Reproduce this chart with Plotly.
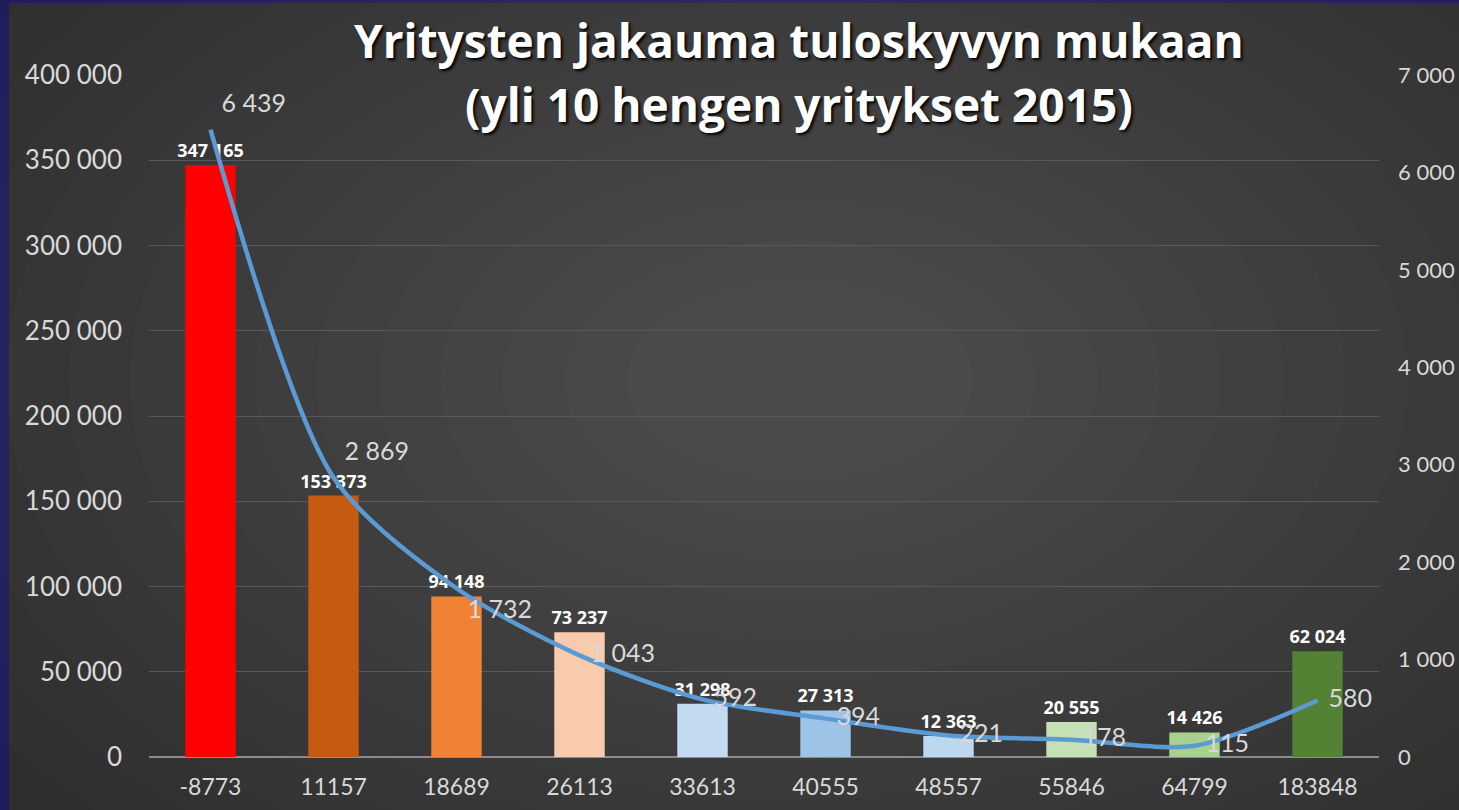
import plotly.graph_objects as go

# tuloskyky category (x axis labels)
categories = ["-8773", "11157", "18689", "26113", "33613", "40555",
              "48557", "55846", "64799", "183848"]
# bars, left axis
bar_values = [347165, 153373, 94148, 73237, 31298, 27313, 12363, 20555, 14426, 62024]
# line, right axis
line_values = [6439, 2869, 1732, 1043, 592, 394, 221, 178, 115, 580]

title_lines = ["Yritysten jakauma tuloskyvyn mukaan", "(yli 10 hengen yritykset 2015)"]

bar_colors = ["#FF0000", "#C55A11", "#F08235", "#F8CBAD", "#C3DAF0",
              "#9DC3E6", "#BDD7EE", "#C5E0B4", "#A9D18E", "#548235"]
line_text_pos = ["top right", "top right", "bottom right", "middle right", "middle right",
                 "middle right", "middle right", "middle right", "middle right", "middle right"]

W, H = 1459, 810
L, R, T, B = 149, 80, 75, 53
PW, PH = W - L - R, H - T - B


def px_x(px):
    return (px - L) / PW


def px_y(py):
    return (H - B - py) / PH


fig = go.Figure()
fig.add_trace(go.Bar(
    x=categories, y=bar_values, marker_color=bar_colors, marker_line_width=0,
    width=0.41, texttemplate="<b>%{y:,.0f}</b>", textposition="outside",
    constraintext="none",
    textfont=dict(family="Open Sans, sans-serif", size=18, color="#ffffff"),
    cliponaxis=False, name="Yrityksiä",
))
# transparent markers push the value labels away from the line
fig.add_trace(go.Scatter(
    x=categories, y=line_values, yaxis="y2", mode="lines+markers+text",
    line=dict(color="#5B9BD5", width=4.5, shape="spline", smoothing=0.8),
    marker=dict(size=16, color="rgba(0,0,0,0)"),
    texttemplate="%{y:,.0f}", textposition=line_text_pos,
    textfont=dict(size=25, color="#d9d9d9"), cliponaxis=False, name="Henkilöstö",
))

# dark background panel with a soft radial highlight
shapes = [dict(type="rect", xref="paper", yref="paper", layer="below",
               x0=px_x(9), x1=px_x(W + 5), y0=px_y(H + 5), y1=px_y(3),
               fillcolor="#2e2e2e", line_width=0)]
cx, cy = 800, 380
for k in range(14):
    rx = 980 - k * 62
    ry = 620 - k * 40
    shapes.append(dict(type="circle", xref="paper", yref="paper", layer="below",
                       x0=px_x(cx - rx), x1=px_x(cx + rx), y0=px_y(cy + ry), y1=px_y(cy - ry),
                       fillcolor="rgba(255,255,255,0.013)", line_width=0))

annotations = []
for text, ypx in zip(title_lines, [40, 104]):
    annotations.append(dict(text=text, x=px_x(799), y=px_y(ypx), xref="paper", yref="paper",
                            xanchor="center", yanchor="middle", showarrow=False,
                            font=dict(family="Open Sans, sans-serif", size=46, color="#ffffff",
                                      weight="bold", shadow="2px 2px 3px #000000")))

fig.update_layout(
    width=W, height=H,
    margin=dict(l=L, r=R, t=T, b=B, autoexpand=False),
    paper_bgcolor="#201c5c", plot_bgcolor="rgba(0,0,0,0)",
    separators=", ",
    font=dict(family="Lato, Open Sans, sans-serif", color="#d9d9d9"),
    showlegend=False,
    shapes=shapes,
    annotations=annotations,
    xaxis=dict(range=[-0.5, len(categories) - 0.5], showgrid=False, showline=False, ticks="",
               tickfont=dict(size=23, color="#d9d9d9"), ticklabelstandoff=14),
    yaxis=dict(range=[0, 400000], dtick=50000, tickformat=",.0f",
               gridcolor="#585858", gridwidth=1, zeroline=True, zerolinecolor="#8c8c8c",
               zerolinewidth=1.5, ticks="", ticklabelstandoff=26,
               tickfont=dict(size=26, color="#d9d9d9")),
    yaxis2=dict(range=[0, 7000], dtick=1000, tickformat=",.0f", overlaying="y", side="right",
                showgrid=False, zeroline=False, ticks="", ticklabelstandoff=18,
                tickfont=dict(size=22, color="#d9d9d9")),
)

fig.write_html("out.html", config={"displayModeBar": False},
               post_script="document.body.style.margin = '0';")
